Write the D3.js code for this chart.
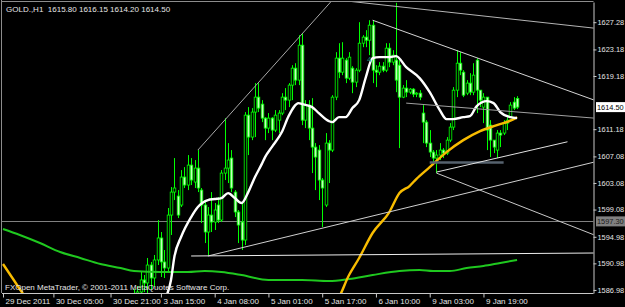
<!DOCTYPE html>
<html><head><meta charset="utf-8">
<script src="https://cdn.jsdelivr.net/npm/d3@7"></script>
<style>html,body{margin:0;padding:0;background:#000;overflow:hidden}svg{display:block}</style>
</head><body><svg id="c" width="625" height="307"></svg>
<script>
// ---------------- DATA ----------------
const symbol = "GOLD.,H1";
const copyright = "FXOpen MetaTrader, \u00A9 2001-2011 MetaQuotes Software Corp.";
const firstBar = 39;
const open = [1585.47,1586.07,1586.67,1588.48,1588.03,1590.73,1588.78,1591.49,1594.80,1591.19,
1590.28,1598.25,1601.71,1601.11,1599.76,1603.97,1602.77,1605.77,1603.22,1605.32,
1602.01,1599.76,1595.70,1598.25,1597.20,1599.76,1597.50,1604.57,1605.32,1606.83,
1601.71,1598.71,1597.20,1594.49,1613.29,1609.99,1613.75,1616.00,1614.95,1612.84,
1611.34,1612.84,1611.04,1612.54,1613.60,1616.00,1615.55,1617.81,1620.36,1618.56,
1623.82,1612.54,1614.80,1611.34,1608.48,1608.03,1603.52,1599.76,1609.08,1608.03,
1616.00,1621.87,1619.76,1621.57,1618.86,1620.36,1618.26,1620.06,1624.12,1625.03,
1624.57,1626.83,1620.06,1619.76,1620.66,1620.06,1623.37,1621.27,1621.57,1620.81,
1616.00,1617.36,1616.75,1617.20,1616.45,1616.60,1613.60,1612.24,1609.08,1607.73,
1606.83,1607.28,1608.03,1607.58,1609.53,1611.49,1617.05,1621.11,1619.76,1616.60,
1618.11,1616.75,1621.57,1617.05,1614.50,1616.00,1611.79,1609.53,1608.03,1610.59,
1610.59,1612.09,1612.99,1615.25,1615.80];
const high = [1587.12,1587.58,1589.68,1589.23,1591.79,1591.19,1592.24,1597.50,1595.70,1592.99,
1599.31,1602.47,1606.83,1602.01,1605.02,1605.47,1607.28,1606.83,1606.53,1608.03,
1602.32,1600.51,1599.46,1601.71,1600.06,1600.96,1605.02,1612.84,1609.08,1608.03,
1602.01,1599.01,1600.06,1613.75,1614.50,1614.35,1618.11,1618.11,1615.55,1612.99,
1613.60,1612.99,1614.05,1614.05,1616.60,1617.36,1618.11,1620.81,1621.11,1625.33,
1625.63,1615.55,1615.55,1615.85,1609.08,1608.78,1603.82,1610.59,1609.53,1616.30,
1622.77,1624.12,1624.27,1621.87,1622.77,1620.66,1620.36,1627.28,1625.33,1626.08,
1627.58,1627.58,1620.81,1621.27,1621.27,1624.12,1624.12,1623.07,1630.20,1621.57,
1617.81,1618.56,1617.36,1617.36,1616.75,1617.05,1614.80,1612.54,1611.04,1608.03,
1608.03,1609.08,1608.33,1609.99,1612.09,1617.51,1623.07,1622.77,1620.06,1618.56,
1619.61,1621.11,1621.87,1617.05,1616.60,1616.00,1612.54,1609.53,1611.04,1611.04,
1612.54,1612.99,1615.25,1616.00,1616.15];
const low = [1583.97,1584.72,1585.77,1586.67,1586.07,1586.97,1587.43,1590.73,1588.93,1588.78,
1589.68,1595.25,1600.51,1597.80,1599.46,1602.32,1602.01,1602.77,1602.32,1601.71,
1597.05,1594.04,1592.24,1595.70,1596.00,1597.05,1597.20,1603.52,1603.07,1601.71,
1597.95,1594.04,1592.99,1593.74,1607.28,1609.53,1609.99,1613.75,1612.24,1609.53,
1610.59,1609.53,1610.74,1610.59,1613.29,1614.05,1614.50,1615.55,1617.81,1617.81,
1611.79,1611.34,1609.53,1604.57,1602.01,1600.51,1596.45,1599.46,1603.07,1607.73,
1615.55,1618.86,1619.31,1618.11,1618.56,1616.60,1617.51,1619.76,1623.52,1623.52,
1622.32,1618.11,1617.51,1619.31,1619.76,1619.76,1620.51,1620.81,1616.75,1608.33,
1615.85,1616.00,1616.45,1616.00,1616.00,1615.55,1609.08,1608.48,1606.98,1605.77,
1604.57,1606.53,1606.83,1607.28,1609.23,1611.04,1616.00,1619.31,1616.00,1616.30,
1616.30,1616.30,1613.60,1614.50,1612.09,1608.03,1606.98,1607.58,1606.83,1608.48,
1610.29,1611.04,1612.84,1614.05,1614.20];
const close = [1586.07,1586.67,1588.48,1588.03,1590.73,1588.78,1591.49,1594.80,1591.19,1590.28,
1598.25,1601.71,1602.32,1598.25,1603.97,1602.77,1605.77,1603.52,1605.32,1602.32,
1599.76,1595.70,1598.25,1597.20,1599.01,1597.50,1604.57,1605.32,1606.53,1602.32,
1598.71,1596.75,1594.49,1613.29,1609.99,1613.75,1616.00,1614.35,1612.84,1611.34,
1612.84,1611.04,1613.29,1613.60,1616.00,1615.55,1617.81,1620.36,1618.56,1623.82,
1612.54,1614.80,1611.34,1608.48,1606.98,1603.52,1602.32,1609.08,1608.03,1616.00,
1621.87,1619.76,1621.87,1618.86,1622.02,1618.26,1620.06,1624.12,1625.03,1624.57,
1626.83,1620.06,1619.76,1620.66,1620.06,1623.37,1621.27,1622.32,1618.56,1616.00,
1617.36,1616.75,1617.20,1616.45,1616.60,1616.00,1612.24,1609.08,1607.73,1606.83,
1607.28,1608.03,1607.58,1609.53,1611.49,1617.05,1621.11,1620.06,1616.30,1618.11,
1616.75,1619.31,1617.05,1615.55,1616.00,1611.04,1609.53,1608.48,1610.59,1610.29,
1612.09,1612.54,1614.80,1614.35,1614.50];

const timeBars = [0,15,32,47,63,79,95,111,127,143];
const timeLabels = ["29 Dec 2011","30 Dec 05:00","30 Dec 21:00","3 Jan 15:00","4 Jan 08:00",
  "5 Jan 01:00","5 Jan 17:00","6 Jan 10:00","9 Jan 03:00","9 Jan 19:00"];
const priceTicks = [1627.28,1623.18,1619.18,1611.18,1607.08,1603.08,1599.08,1594.98,1590.98,1586.98];
const bidPrice = 1614.50;
const hLinePrice = 1597.30;

const maWhiteBar = [48,50,51,53,56,58,61,63,65,67,69,71,73,75,77,78,80,83,85,88,89,92,94,97,98,100,102,104,106,108,110,112,115,117,120,124,127,130,132,134,137,139,141,144,146,148,151,153];
const maWhite = [1585.47,1588.48,1591.94,1594.95,1597.95,1599.46,1600.51,1600.66,1600.81,1601.56,1600.81,1600.06,1601.71,1603.97,1605.92,1606.98,1608.48,1610.74,1613.14,1615.10,1614.95,1614.50,1613.60,1612.39,1612.24,1612.99,1612.99,1614.35,1615.55,1619.01,1621.87,1622.02,1622.02,1622.17,1620.51,1618.86,1616.75,1614.05,1612.69,1612.69,1612.99,1613.14,1614.65,1615.40,1615.10,1613.75,1612.99,1612.84];
const maYellowBar = [0,3,6,9,99,103,106,110,115,118,121,123,127,132,137,142,147,152,153];
const maYellow = [1590.88,1588.63,1586.37,1584.50,1585.47,1589.23,1591.79,1595.55,1598.71,1601.56,1602.62,1603.67,1605.47,1607.73,1609.53,1610.89,1611.79,1612.69,1612.99];
const maGreenBar = [0,5,11,17,23,29,35,39,47,55,60,65,71,79,89,97,103,110,118,124,128,133,138,143,148,153];
const maGreen = [1596.15,1595.25,1594.04,1592.69,1591.79,1590.88,1590.28,1589.83,1589.68,1589.68,1589.83,1589.68,1589.23,1588.48,1588.48,1588.33,1588.63,1589.23,1589.83,1589.98,1589.83,1589.83,1590.28,1590.58,1591.04,1591.49];

const trendBar1 = [100,58,110,120,127,129,129,61,56];
const trendPrice1 = [1630.60,1608.03,1627.58,1615.10,1606.15,1604.72,1604.57,1592.09,1592.09];
const trendBar2 = [176,98,176,176,149,168,176,176,176];
const trendPrice2 = [1626.38,1630.59,1615.55,1612.84,1606.15,1609.28,1595.25,1606.23,1592.54];

const waveLabelBar = 109, waveLabelPrice = 1621.72, waveLabel = "4";

// ---------------- DRAWING ----------------
const svg = d3.select("#c");
const FONT = "'Liberation Sans', Arial, sans-serif";
const L = 2, R = 593.5, T = 2, B = 293;
const x = d3.scaleLinear().domain([0, 175.75]).range([3, R]);
const y = d3.scaleLinear().domain([1586.52, 1630.32]).range([B, T]);

svg.append("rect").attr("width", 625).attr("height", 307).attr("fill", "#000");
svg.append("defs").append("clipPath").attr("id", "plot")
  .append("rect").attr("x", L).attr("y", T).attr("width", R - L).attr("height", B - T);
const g = svg.append("g").attr("clip-path", "url(#plot)");

// horizontal line object
g.append("line").attr("x1", L).attr("x2", R)
  .attr("y1", Math.round(y(hLinePrice)) + 0.5).attr("y2", Math.round(y(hLinePrice)) + 0.5)
  .attr("stroke", "#808080").attr("stroke-width", 1);

// candles
const bars = open.map((o, k) => ({ i: firstBar + k, o, h: high[k], l: low[k], c: close[k] }));
const cg = g.append("g");
bars.forEach(d => {
  const cx = Math.round(x(d.i)) + 0.5;
  cg.append("line").attr("x1", cx).attr("x2", cx).attr("y1", y(d.h)).attr("y2", y(d.l))
    .attr("stroke", "#00ff00").attr("stroke-width", 1);
  const top = y(Math.max(d.o, d.c)), bot = y(Math.min(d.o, d.c));
  cg.append("rect").attr("x", cx - 1.3).attr("width", 2.6)
    .attr("y", top).attr("height", Math.max(0.8, bot - top))
    .attr("fill", d.c < d.o ? "#c4ffbc" : "#000").attr("stroke", "#00ff00").attr("stroke-width", 0.8);
});

// moving averages
const line = d3.line().x(d => x(d[0])).y(d => y(d[1])).curve(d3.curveMonotoneX);
g.append("path").attr("d", line(maGreenBar.map((b, k) => [b, maGreen[k]])))
  .attr("fill", "none").attr("stroke", "#1fc81f").attr("stroke-width", 2);
g.append("path").attr("d", line(maYellowBar.map((b, k) => [b, maYellow[k]])))
  .attr("fill", "none").attr("stroke", "#f8bc00").attr("stroke-width", 2.4);
g.append("path").attr("d", line(maWhiteBar.map((b, k) => [b, maWhite[k]])))
  .attr("fill", "none").attr("stroke", "#ffffff").attr("stroke-width", 2.4);

// trend lines
const tColors = ["#b4b4b4","#a8a8a8","#d4d4d4","#a0a0a0","#56626e","#e0e0e0","#c8c8c8","#d0d0d0","#ececec"];
const tWidths = [1,1,1,1,2.5,1,1,1,1];
trendBar1.forEach((b, k) => {
  g.append("line").attr("x1", x(b)).attr("y1", y(trendPrice1[k]))
    .attr("x2", x(trendBar2[k])).attr("y2", y(trendPrice2[k]))
    .attr("stroke", tColors[k]).attr("stroke-width", tWidths[k]);
});

g.append("text").attr("x", x(waveLabelBar)).attr("y", y(waveLabelPrice) + 3)
  .attr("text-anchor", "middle").attr("font-family", FONT).attr("font-size", 8)
  .attr("fill", "#1f8f74").text(waveLabel);

// frame
svg.append("line").attr("x1", 1.5).attr("x2", 1.5).attr("y1", 0).attr("y2", B)
  .attr("stroke", "#8c8c8c");
svg.append("line").attr("x1", 1.5).attr("x2", R).attr("y1", 1.5).attr("y2", 1.5)
  .attr("stroke", "#8c8c8c");

// price axis
const AXF = 7.4;
const ya = svg.append("g").attr("transform", `translate(${R},0)`)
  .call(d3.axisRight(y).tickValues(priceTicks).tickFormat(d3.format(".2f"))
    .tickSize(3).tickSizeOuter(0).tickPadding(1));
ya.select(".domain").attr("stroke", "#c8c8c8");
ya.selectAll(".tick line").attr("stroke", "#c8c8c8");
ya.selectAll("text").attr("fill", "#e6e6e6").attr("font-family", FONT).attr("font-size", AXF);

// bid label & line label boxes
function priceBox(p, fill, color) {
  const yy = y(p);
  svg.append("rect").attr("x", R + 2.5).attr("y", yy - 5).attr("width", 30).attr("height", 10)
    .attr("fill", fill);
  svg.append("text").attr("x", R + 3.5).attr("y", yy + 3).attr("font-family", FONT)
    .attr("font-size", AXF).attr("fill", color).text(d3.format(".2f")(p));
}
priceBox(bidPrice, "#ffffff", "#000");
priceBox(hLinePrice, "#808080", "#1a1a1a");

// time axis
const xa = svg.append("g").attr("transform", `translate(0,${B + 0.5})`)
  .call(d3.axisBottom(x).tickValues(timeBars).tickFormat((d, k) => timeLabels[k])
    .tickSize(4).tickSizeOuter(0));
xa.select(".domain").attr("stroke", "#c8c8c8").attr("d", `M${L},0H${R}`);
xa.selectAll(".tick line").attr("stroke", "#c8c8c8");
xa.selectAll("text").attr("fill", "#e6e6e6").attr("font-family", FONT).attr("font-size", 8)
  .attr("text-anchor", "start").attr("dx", 2).attr("y", 5).attr("dy", "0.71em");

// header & copyright
const last = bars[bars.length - 1];
svg.append("text").attr("x", 6).attr("y", 12).attr("font-family", FONT).attr("font-size", 8)
  .attr("fill", "#e6e6e6").attr("xml:space", "preserve").style("white-space", "pre")
  .text(`${symbol}  ${last.o.toFixed(2)} ${last.h.toFixed(2)} ${last.l.toFixed(2)} ${last.c.toFixed(2)}`);
svg.append("text").attr("x", 5).attr("y", 290).attr("font-family", FONT).attr("font-size", 8)
  .attr("fill", "#e6e6e6").text(copyright);
</script></body></html>
